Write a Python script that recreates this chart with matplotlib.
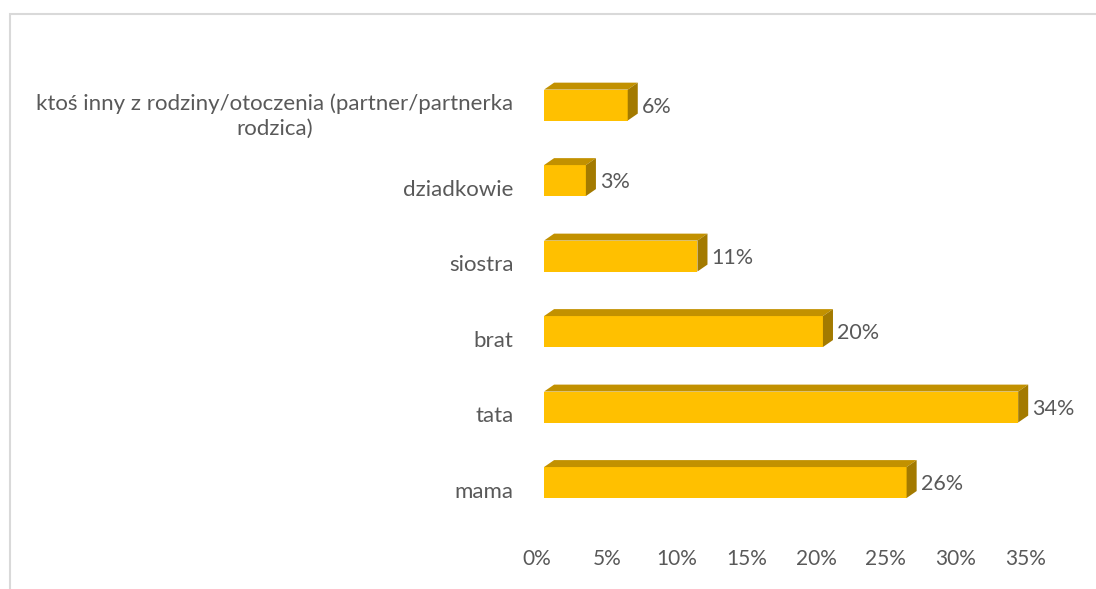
import matplotlib.pyplot as plt
import matplotlib.transforms as mtransforms
from matplotlib.patches import Polygon, Rectangle

categories = [
    "mama",
    "tata",
    "brat",
    "siostra",
    "dziadkowie",
    "ktoś inny z rodziny/otoczenia (partner/partnerka\nrodzica)",
]
values = [26, 34, 20, 11, 3, 6]
xticks = [0, 5, 10, 15, 20, 25, 30, 35]

front_col = "#FFC000"
top_col = "#C29100"
side_col = "#A37A00"
text_col = "#595959"
font = ["Lato", "DejaVu Sans"]

fig = plt.figure(figsize=(10.96, 5.89), dpi=100)
ax = fig.add_axes([0.4964, 0.1167, 0.4453, 0.769])

bar_h = 0.41
dx = 0.72   # depth in percent units (~10 px)
dy = 0.092  # depth in category units (~7 px)

ys = list(range(len(categories)))
ax.barh(ys, values, height=bar_h, color=front_col, zorder=2)
for y, v in zip(ys, values):
    top = y + bar_h / 2
    bot = y - bar_h / 2
    ax.add_patch(Polygon([(0, top), (v, top), (v + dx, top + dy), (dx, top + dy)],
                         closed=True, facecolor=top_col, edgecolor="none", zorder=2))
    ax.add_patch(Polygon([(v, bot), (v + dx, bot + dy), (v + dx, top + dy), (v, top)],
                         closed=True, facecolor=side_col, edgecolor="none", zorder=2))
    ax.text(v + dx + 0.3, y - 0.02, f"{v}%", ha="left", va="center", color=text_col,
            fontsize=15.5, family=font)

ax.set_xlim(0, 35)
ax.set_ylim(-0.5, len(categories) - 0.5)
ax.set_xticks(xticks)
ax.set_xticklabels([f"{t}%" for t in xticks], family=font, fontsize=15, color=text_col)
ax.set_yticks(ys)
ax.set_yticklabels(categories, family=font, fontsize=16, color=text_col,
                   multialignment="center", linespacing=1.25)
ax.tick_params(axis="both", length=0)
ax.tick_params(axis="x", pad=21)
ax.tick_params(axis="y", pad=22)

off_x = mtransforms.ScaledTranslation(-7 / 100, 0, fig.dpi_scale_trans)
for lab in ax.get_xticklabels():
    lab.set_transform(lab.get_transform() + off_x)
off_y = mtransforms.ScaledTranslation(0, -7 / 100, fig.dpi_scale_trans)
for lab in ax.get_yticklabels():
    lab.set_transform(lab.get_transform() + off_y)

for s in ax.spines.values():
    s.set_visible(False)

# outer chart frame (cropped on the right and bottom)
fig.add_artist(Rectangle((10 / 1096, -0.1), 1.2, (589 - 14.5) / 589 + 0.1,
                         transform=fig.transFigure, facecolor="none",
                         edgecolor="#D9D9D9", linewidth=1.5))

fig.savefig("out.png", dpi=100)
